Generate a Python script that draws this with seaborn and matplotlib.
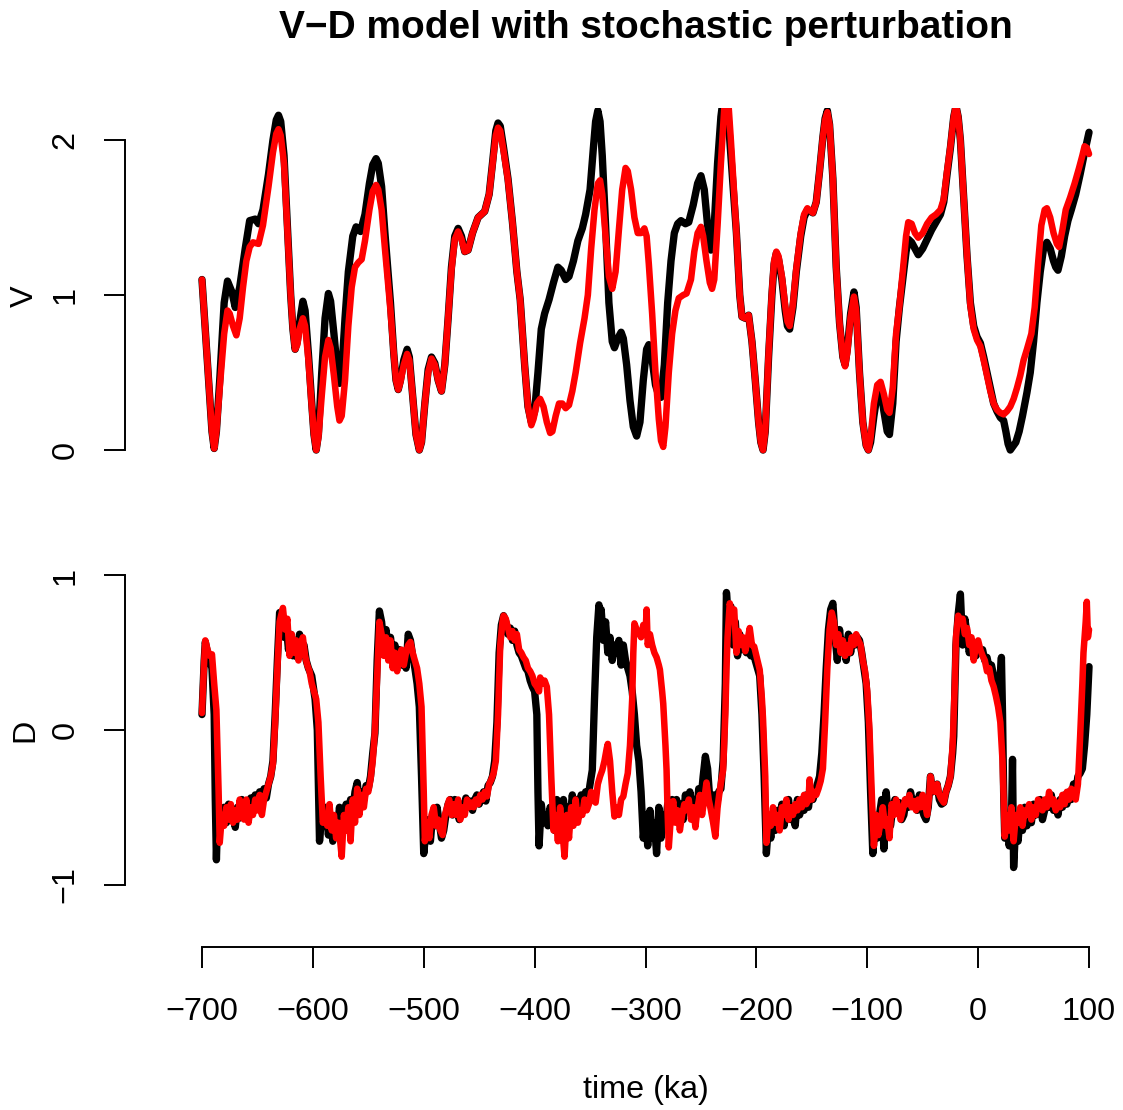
import numpy as np
import pandas as pd
import matplotlib
matplotlib.use("Agg")
import matplotlib.pyplot as plt
import seaborn as sns

# V (ice volume) - deterministic run (black) and perturbed run (red)
v_black_time = [
    -700, -695, -691, -689, -687, -684, -680, -677, -673, -670,
    -666, -661, -657, -652, -649, -645, -640, -636, -633, -631,
    -629, -626, -623, -620, -618, -616, -614, -612, -609, -607,
    -604, -601, -599, -597, -595, -592, -589, -586, -584, -581,
    -578, -576, -574, -571, -568, -564, -561, -557, -553, -549,
    -546, -543, -541, -538, -535, -530, -527, -525, -523, -521,
    -518, -515, -513, -510, -507, -504, -502, -499, -496, -493,
    -490, -487, -484, -481, -478, -475, -472, -469, -466, -463,
    -460, -456, -451, -445, -441, -438, -435, -433, -431, -428,
    -424, -420, -416, -413, -409, -406, -403, -400, -397, -394,
    -391, -387, -383, -379, -376, -372, -369, -365, -361, -357,
    -354, -350, -347, -345, -343, -341, -339, -336, -333, -330,
    -328, -325, -322, -320, -317, -314, -311, -308, -305, -302,
    -299, -297, -294, -291, -288, -286, -283, -280, -277, -274,
    -271, -268, -264, -261, -257, -253, -250, -247, -244, -241,
    -238, -235, -232, -229, -226, -222, -218, -215, -213, -210,
    -207, -204, -201, -198, -196, -194, -192, -189, -186, -184,
    -182, -180, -177, -174, -172, -170, -167, -164, -160, -157,
    -154, -149, -146, -143, -140, -138, -136, -134, -131, -128,
    -125, -122, -120, -118, -115, -112, -110, -107, -104, -101,
    -99, -97, -94, -91, -88, -85, -82, -80, -77, -74,
    -71, -68, -65, -63, -60, -57, -54, -50, -46, -42,
    -38, -34, -31, -28, -25, -22, -20, -18, -16, -13,
    -10, -7, -4, -1, 2, 5, 8, 11, 14, 17,
    20, 23, 25, 27, 29, 31, 34, 37, 40, 44,
    47, 50, 53, 56, 59, 62, 65, 68, 70, 72,
    75, 78, 81, 84, 88, 92, 96, 100,
]
v_black = [
    1.10, 0.55, 0.12, 0.01, 0.12, 0.45, 0.95, 1.09, 1.02, 0.92,
    1.05, 1.30, 1.48, 1.49, 1.46, 1.55, 1.78, 2.00, 2.13, 2.16,
    2.12, 1.90, 1.45, 1.00, 0.78, 0.65, 0.70, 0.82, 0.96, 0.90,
    0.62, 0.30, 0.10, 0.00, 0.10, 0.50, 0.85, 1.01, 0.96, 0.75,
    0.52, 0.43, 0.50, 0.85, 1.15, 1.38, 1.44, 1.41, 1.52, 1.72,
    1.84, 1.88, 1.85, 1.70, 1.40, 0.95, 0.62, 0.45, 0.39, 0.45,
    0.58, 0.65, 0.60, 0.35, 0.10, 0.00, 0.05, 0.30, 0.52, 0.60,
    0.56, 0.45, 0.38, 0.55, 0.85, 1.18, 1.38, 1.43, 1.38, 1.28,
    1.29, 1.40, 1.50, 1.54, 1.65, 1.85, 2.06, 2.11, 2.09, 1.95,
    1.75, 1.47, 1.15, 0.97, 0.55, 0.28, 0.18, 0.25, 0.50, 0.78,
    0.88, 0.97, 1.08, 1.18, 1.16, 1.10, 1.12, 1.22, 1.35, 1.43,
    1.52, 1.68, 1.95, 2.12, 2.19, 2.12, 1.90, 1.45, 0.95, 0.70,
    0.66, 0.72, 0.76, 0.72, 0.55, 0.32, 0.15, 0.09, 0.18, 0.45,
    0.65, 0.68, 0.58, 0.42, 0.35, 0.34, 0.55, 0.95, 1.22, 1.40,
    1.46, 1.48, 1.46, 1.47, 1.58, 1.72, 1.77, 1.68, 1.45, 1.29,
    1.45, 1.85, 2.15, 2.32, 2.20, 1.80, 1.40, 1.00, 0.86, 0.85,
    0.87, 0.70, 0.45, 0.18, 0.05, 0.00, 0.12, 0.60, 1.00, 1.20,
    1.27, 1.23, 1.10, 0.90, 0.80, 0.78, 0.92, 1.15, 1.38, 1.50,
    1.55, 1.53, 1.60, 1.80, 2.02, 2.14, 2.19, 2.10, 1.75, 1.18,
    0.82, 0.60, 0.55, 0.65, 0.88, 1.02, 0.92, 0.50, 0.18, 0.03,
    0.00, 0.05, 0.22, 0.36, 0.40, 0.25, 0.12, 0.10, 0.30, 0.70,
    0.92, 1.10, 1.28, 1.36, 1.34, 1.30, 1.26, 1.30, 1.36, 1.42,
    1.47, 1.52, 1.60, 1.78, 1.95, 2.15, 2.22, 2.15, 2.00, 1.62,
    1.25, 0.95, 0.80, 0.73, 0.69, 0.60, 0.50, 0.40, 0.30, 0.25,
    0.21, 0.19, 0.12, 0.04, 0.00, 0.02, 0.05, 0.12, 0.22, 0.37,
    0.50, 0.70, 0.95, 1.15, 1.30, 1.34, 1.30, 1.22, 1.18, 1.16,
    1.25, 1.38, 1.48, 1.55, 1.65, 1.78, 1.92, 2.05,
]

v_red_time = [
    -700, -695, -691, -689, -687, -684, -680, -677, -675, -672,
    -669, -666, -663, -660, -657, -654, -649, -645, -640, -636,
    -633, -631, -629, -626, -623, -620, -618, -616, -614, -612,
    -609, -607, -604, -601, -599, -597, -595, -592, -589, -586,
    -584, -581, -578, -576, -574, -571, -568, -565, -562, -559,
    -556, -553, -549, -546, -543, -541, -538, -535, -530, -527,
    -525, -523, -521, -518, -515, -513, -510, -507, -504, -502,
    -499, -496, -493, -490, -487, -484, -481, -478, -475, -472,
    -469, -466, -463, -460, -456, -451, -445, -441, -438, -435,
    -433, -431, -428, -424, -420, -416, -413, -409, -406, -403,
    -401, -398, -395, -392, -389, -386, -384, -381, -378, -375,
    -372, -369, -366, -363, -359, -355, -352, -349, -346, -343,
    -341, -339, -336, -333, -330, -327, -324, -321, -318, -316,
    -313, -310, -307, -304, -301, -299, -297, -294, -291, -288,
    -286, -284, -282, -279, -276, -273, -270, -266, -263, -259,
    -256, -253, -250, -248, -245, -242, -240, -238, -235, -232,
    -229, -226, -223, -220, -218, -215, -213, -210, -207, -204,
    -201, -198, -196, -194, -192, -189, -186, -184, -182, -180,
    -177, -174, -172, -170, -167, -164, -160, -157, -154, -149,
    -146, -143, -140, -138, -136, -134, -131, -128, -125, -122,
    -120, -118, -115, -112, -110, -107, -104, -101, -99, -97,
    -94, -91, -88, -85, -82, -80, -77, -74, -71, -68,
    -65, -63, -60, -57, -54, -50, -46, -42, -38, -34,
    -31, -28, -25, -22, -20, -18, -16, -13, -10, -7,
    -4, -1, 2, 5, 8, 11, 14, 17, 20, 23,
    26, 29, 32, 35, 38, 41, 44, 48, 51, 54,
    57, 60, 62, 65, 68, 71, 73, 76, 79, 83,
    87, 91, 94, 96, 98, 100,
]
v_red = [
    1.10, 0.55, 0.12, 0.01, 0.12, 0.40, 0.75, 0.90, 0.88, 0.80,
    0.74, 0.85, 1.05, 1.22, 1.31, 1.34, 1.33, 1.45, 1.70, 1.92,
    2.04, 2.07, 2.03, 1.85, 1.42, 1.00, 0.78, 0.65, 0.68, 0.78,
    0.85, 0.80, 0.58, 0.28, 0.10, 0.00, 0.08, 0.35, 0.60, 0.71,
    0.66, 0.48, 0.28, 0.19, 0.22, 0.45, 0.80, 1.05, 1.18, 1.21,
    1.23, 1.35, 1.55, 1.67, 1.71, 1.68, 1.55, 1.30, 0.90, 0.62,
    0.45, 0.39, 0.44, 0.55, 0.62, 0.58, 0.35, 0.10, 0.00, 0.05,
    0.30, 0.50, 0.59, 0.55, 0.45, 0.38, 0.55, 0.85, 1.16, 1.36,
    1.41, 1.36, 1.28, 1.29, 1.40, 1.50, 1.54, 1.65, 1.84, 2.03,
    2.08, 2.06, 1.93, 1.74, 1.47, 1.15, 0.97, 0.55, 0.28, 0.16,
    0.20, 0.30, 0.33, 0.28, 0.18, 0.11, 0.12, 0.22, 0.30, 0.30,
    0.27, 0.29, 0.38, 0.50, 0.69, 0.85, 1.00, 1.30, 1.55, 1.72,
    1.74, 1.65, 1.38, 1.12, 1.04, 1.15, 1.42, 1.68, 1.82, 1.80,
    1.68, 1.50, 1.40, 1.40, 1.43, 1.38, 1.20, 0.88, 0.50, 0.20,
    0.06, 0.02, 0.15, 0.50, 0.75, 0.90, 0.98, 1.00, 1.01, 1.10,
    1.28, 1.40, 1.44, 1.38, 1.22, 1.08, 1.04, 1.10, 1.45, 1.85,
    2.20, 2.32, 2.00, 1.65, 1.40, 1.00, 0.86, 0.85, 0.87, 0.70,
    0.45, 0.18, 0.05, 0.00, 0.12, 0.62, 1.02, 1.22, 1.28, 1.25,
    1.12, 0.93, 0.83, 0.80, 0.94, 1.17, 1.40, 1.52, 1.56, 1.53,
    1.60, 1.80, 2.02, 2.13, 2.18, 2.10, 1.75, 1.18, 0.82, 0.60,
    0.54, 0.63, 0.86, 0.99, 0.90, 0.50, 0.18, 0.03, 0.00, 0.08,
    0.30, 0.42, 0.44, 0.36, 0.26, 0.24, 0.40, 0.75, 0.93, 1.15,
    1.38, 1.47, 1.46, 1.40, 1.37, 1.40, 1.46, 1.50, 1.52, 1.55,
    1.62, 1.80, 1.96, 2.15, 2.22, 2.15, 2.00, 1.62, 1.25, 0.93,
    0.78, 0.71, 0.67, 0.58, 0.48, 0.38, 0.30, 0.26, 0.24, 0.23,
    0.25, 0.28, 0.33, 0.40, 0.48, 0.58, 0.65, 0.75, 0.92, 1.20,
    1.45, 1.55, 1.56, 1.50, 1.40, 1.33, 1.31, 1.42, 1.55, 1.63,
    1.72, 1.82, 1.90, 1.96, 1.95, 1.91,
]

# D (deep-water state) - deterministic run (black) and perturbed run (red)
d_black_time = [
    -700, -698, -697, -695, -693, -691, -689, -688, -687, -686,
    -684, -682, -680, -678, -676, -674, -672, -670, -668, -666,
    -664, -662, -660, -658, -656, -654, -652, -650, -648, -646,
    -644, -642, -640, -638, -636, -634, -632, -630, -628, -626,
    -624, -622, -620, -618, -616, -614, -612, -610, -608, -606,
    -604, -601, -598, -596, -594, -592, -590, -588, -586, -584,
    -582, -580, -578, -576, -574, -572, -570, -568, -566, -564,
    -562, -560, -558, -556, -554, -552, -550, -548, -546, -544,
    -542, -540, -538, -536, -534, -532, -530, -528, -526, -524,
    -522, -520, -518, -516, -514, -512, -510, -508, -506, -504,
    -502, -500, -498, -496, -494, -492, -490, -488, -486, -484,
    -482, -480, -478, -476, -474, -472, -470, -468, -466, -464,
    -462, -460, -458, -456, -454, -452, -450, -448, -446, -444,
    -442, -440, -438, -436, -434, -432, -430, -428, -426, -424,
    -422, -420, -418, -416, -414, -412, -410, -408, -406, -404,
    -402, -400, -398, -397, -396, -394, -392, -390, -388, -386,
    -384, -382, -380, -378, -376, -374, -372, -370, -368, -366,
    -364, -362, -360, -358, -356, -354, -352, -350, -348, -346,
    -344, -342, -341, -340, -338, -336, -334, -332, -330, -328,
    -326, -324, -322, -320, -318, -316, -314, -312, -310, -308,
    -306, -304, -302, -300, -298, -296, -294, -292, -290, -288,
    -286, -284, -282, -280, -278, -276, -274, -272, -270, -268,
    -266, -264, -262, -260, -258, -256, -254, -252, -250, -248,
    -246, -244, -242, -240, -238, -236, -234, -232, -230, -228,
    -227, -225, -223, -221, -219, -217, -215, -213, -211, -209,
    -207, -205, -203, -201, -199, -197, -195, -193, -191, -189,
    -187, -185, -183, -181, -179, -177, -175, -173, -171, -169,
    -167, -165, -163, -161, -159, -157, -155, -153, -151, -149,
    -147, -145, -143, -141, -139, -137, -135, -133, -131, -129,
    -127, -125, -123, -121, -119, -117, -115, -113, -111, -109,
    -107, -105, -103, -101, -99, -97, -95, -93, -91, -89,
    -87, -85, -83, -81, -79, -77, -75, -73, -71, -69,
    -67, -65, -63, -61, -59, -57, -55, -53, -51, -49,
    -47, -45, -43, -41, -39, -37, -35, -33, -31, -29,
    -27, -25, -23, -22, -20, -18, -16, -14, -12, -10,
    -8, -6, -4, -2, 0, 2, 4, 6, 8, 10,
    12, 14, 16, 19, 21, 22, 23, 24, 26, 28,
    30, 31, 32, 34, 36, 38, 40, 42, 44, 46,
    48, 50, 52, 54, 56, 58, 60, 62, 64, 66,
    68, 70, 72, 74, 76, 78, 80, 82, 84, 86,
    88, 90, 92, 94, 96, 98, 100,
]
d_black = [
    0.10, 0.45, 0.57, 0.50, 0.45, 0.40, 0.10, -0.45, -0.84, -0.60,
    -0.55, -0.62, -0.50, -0.60, -0.48, -0.58, -0.52, -0.63, -0.50, -0.57,
    -0.45, -0.55, -0.48, -0.56, -0.44, -0.52, -0.42, -0.50, -0.40, -0.48,
    -0.38, -0.44, -0.35, -0.30, -0.20, 0.10, 0.45, 0.76, 0.72, 0.60,
    0.68, 0.52, 0.62, 0.48, 0.58, 0.47, 0.62, 0.52, 0.55, 0.45,
    0.40, 0.35, 0.20, 0.00, -0.72, -0.55, -0.62, -0.50, -0.68, -0.55,
    -0.72, -0.58, -0.65, -0.50, -0.62, -0.55, -0.48, -0.58, -0.45, -0.52,
    -0.40, -0.34, -0.48, -0.40, -0.45, -0.36, -0.38, -0.30, -0.15, -0.02,
    0.45, 0.77, 0.70, 0.55, 0.65, 0.50, 0.60, 0.48, 0.55, 0.45,
    0.52, 0.42, 0.50, 0.40, 0.62, 0.58, 0.48, 0.40, 0.30, 0.15,
    -0.30, -0.80, -0.65, -0.58, -0.72, -0.55, -0.62, -0.50, -0.60, -0.70,
    -0.65, -0.55, -0.48, -0.45, -0.55, -0.45, -0.50, -0.58, -0.48, -0.52,
    -0.44, -0.50, -0.46, -0.52, -0.45, -0.42, -0.48, -0.44, -0.40, -0.46,
    -0.36, -0.34, -0.30, -0.20, 0.05, 0.50, 0.68, 0.74, 0.70, 0.62,
    0.66, 0.58, 0.64, 0.55, 0.50, 0.48, 0.44, 0.40, 0.38, 0.32,
    0.28, 0.25, 0.10, -0.40, -0.75, -0.48, -0.60, -0.55, -0.62, -0.50,
    -0.58, -0.65, -0.45, -0.60, -0.55, -0.45, -0.62, -0.50, -0.58, -0.42,
    -0.55, -0.45, -0.52, -0.42, -0.50, -0.40, -0.45, -0.35, -0.26, 0.20,
    0.60, 0.81, 0.70, 0.78, 0.58, 0.70, 0.50, 0.60, 0.45, 0.55,
    0.50, 0.58, 0.42, 0.55, 0.45, 0.40, 0.35, 0.25, 0.10, -0.10,
    -0.20, -0.40, -0.70, -0.55, -0.75, -0.52, -0.70, -0.60, -0.80, -0.50,
    -0.70, -0.55, -0.62, -0.48, -0.55, -0.45, -0.58, -0.45, -0.55, -0.48,
    -0.58, -0.42, -0.52, -0.40, -0.50, -0.45, -0.55, -0.38, -0.45, -0.30,
    -0.17, -0.25, -0.45, -0.50, -0.42, -0.50, -0.40, -0.38, -0.20, 0.30,
    0.89, 0.70, 0.80, 0.55, 0.70, 0.48, 0.62, 0.52, 0.58, 0.50,
    0.55, 0.48, 0.52, 0.45, 0.40, 0.35, 0.10, -0.30, -0.80, -0.60,
    -0.70, -0.55, -0.65, -0.52, -0.60, -0.48, -0.62, -0.52, -0.45, -0.58,
    -0.50, -0.62, -0.45, -0.55, -0.48, -0.52, -0.42, -0.50, -0.38, -0.45,
    -0.40, -0.35, -0.30, -0.15, 0.10, 0.40, 0.65, 0.78, 0.82, 0.60,
    0.45, 0.65, 0.50, 0.58, 0.45, 0.62, 0.50, 0.60, 0.55, 0.60,
    0.58, 0.50, 0.40, 0.30, 0.05, -0.40, -0.80, -0.62, -0.70, -0.55,
    -0.45, -0.77, -0.40, -0.55, -0.62, -0.50, -0.45, -0.52, -0.47, -0.58,
    -0.55, -0.45, -0.50, -0.40, -0.48, -0.45, -0.52, -0.42, -0.50, -0.55,
    -0.58, -0.50, -0.30, -0.40, -0.38, -0.35, -0.45, -0.48, -0.47, -0.40,
    -0.36, -0.30, -0.15, -0.04, 0.55, 0.75, 0.88, 0.55, 0.72, 0.62,
    0.50, 0.58, 0.52, 0.48, 0.55, 0.50, 0.52, 0.45, 0.47, 0.40,
    0.42, 0.35, 0.28, 0.25, 0.47, 0.10, -0.40, -0.70, -0.55, -0.75,
    -0.60, -0.19, -0.89, -0.60, -0.72, -0.55, -0.65, -0.50, -0.62, -0.52,
    -0.60, -0.48, -0.55, -0.50, -0.45, -0.58, -0.52, -0.45, -0.50, -0.42,
    -0.52, -0.48, -0.55, -0.45, -0.50, -0.42, -0.48, -0.40, -0.45, -0.35,
    -0.40, -0.30, -0.28, -0.25, -0.10, 0.10, 0.41,
]

d_red_time = [
    -700, -698, -697, -695, -693, -691, -689, -687, -685, -684,
    -682, -680, -678, -676, -674, -672, -670, -668, -666, -664,
    -662, -660, -658, -656, -654, -652, -650, -648, -646, -644,
    -642, -640, -638, -636, -634, -632, -630, -628, -627, -625,
    -623, -621, -619, -617, -615, -613, -611, -609, -607, -605,
    -603, -601, -599, -597, -595, -593, -591, -589, -587, -585,
    -583, -581, -579, -577, -575, -574, -572, -570, -568, -566,
    -564, -562, -560, -558, -556, -554, -552, -550, -548, -546,
    -544, -542, -540, -538, -536, -534, -532, -530, -528, -526,
    -524, -522, -520, -518, -516, -514, -512, -510, -508, -506,
    -504, -502, -500, -499, -497, -495, -493, -491, -489, -487,
    -485, -483, -481, -479, -477, -475, -473, -471, -469, -467,
    -465, -463, -461, -459, -457, -455, -453, -451, -449, -447,
    -445, -443, -441, -439, -437, -435, -433, -431, -429, -428,
    -426, -424, -422, -420, -418, -416, -414, -412, -410, -408,
    -406, -404, -402, -400, -398, -396, -395, -393, -391, -389,
    -387, -385, -383, -381, -379, -377, -375, -373, -371, -369,
    -367, -365, -363, -361, -359, -357, -355, -353, -351, -349,
    -347, -345, -343, -341, -339, -337, -335, -334, -332, -330,
    -328, -326, -324, -322, -320, -318, -316, -314, -312, -311,
    -310, -308, -306, -304, -302, -300, -299, -298, -296, -294,
    -292, -290, -288, -287, -285, -284, -282, -281, -280, -279,
    -277, -275, -273, -271, -269, -267, -265, -263, -261, -259,
    -257, -255, -253, -251, -249, -247, -245, -243, -241, -239,
    -237, -235, -233, -231, -230, -228, -227, -226, -224, -222,
    -220, -218, -216, -214, -212, -210, -208, -206, -204, -202,
    -200, -198, -197, -195, -194, -192, -191, -189, -187, -185,
    -183, -181, -179, -177, -175, -173, -171, -169, -167, -165,
    -163, -161, -159, -157, -155, -153, -152, -150, -148, -146,
    -144, -142, -140, -138, -136, -134, -132, -130, -128, -126,
    -124, -122, -120, -118, -116, -114, -112, -110, -108, -106,
    -104, -102, -100, -98, -96, -94, -92, -90, -88, -86,
    -84, -82, -80, -78, -76, -74, -72, -70, -68, -66,
    -64, -62, -60, -58, -56, -54, -52, -50, -48, -46,
    -44, -43, -41, -39, -37, -35, -33, -31, -29, -27,
    -25, -23, -21, -20, -18, -16, -14, -12, -10, -8,
    -6, -4, -2, 0, 2, 4, 6, 8, 10, 12,
    14, 16, 18, 20, 22, 24, 26, 28, 30, 32,
    34, 36, 38, 40, 42, 44, 46, 48, 50, 52,
    54, 56, 58, 60, 62, 64, 66, 68, 70, 72,
    74, 76, 78, 80, 82, 84, 86, 88, 90, 92,
    94, 95, 97, 98, 99, 100,
]
d_red = [
    0.11, 0.45, 0.58, 0.52, 0.48, 0.49, 0.30, 0.13, -0.40, -0.73,
    -0.55, -0.62, -0.50, -0.58, -0.48, -0.60, -0.52, -0.58, -0.45, -0.55,
    -0.58, -0.45, -0.60, -0.50, -0.55, -0.45, -0.52, -0.42, -0.55, -0.45,
    -0.40, -0.35, -0.30, -0.22, 0.05, 0.40, 0.70, 0.76, 0.79, 0.65,
    0.72, 0.48, 0.62, 0.50, 0.58, 0.45, 0.55, 0.60, 0.48, 0.42,
    0.38, 0.30, 0.25, 0.20, 0.05, -0.30, -0.60, -0.55, -0.62, -0.48,
    -0.65, -0.55, -0.70, -0.60, -0.75, -0.82, -0.55, -0.65, -0.50, -0.72,
    -0.45, -0.60, -0.38, -0.55, -0.42, -0.50, -0.38, -0.40, -0.32, -0.20,
    0.00, 0.35, 0.70, 0.62, 0.48, 0.60, 0.45, 0.58, 0.40, 0.50,
    0.38, 0.48, 0.52, 0.42, 0.50, 0.55, 0.57, 0.50, 0.45, 0.40,
    0.30, 0.15, -0.40, -0.72, -0.60, -0.70, -0.55, -0.50, -0.62, -0.58,
    -0.65, -0.68, -0.55, -0.50, -0.45, -0.55, -0.48, -0.55, -0.45, -0.58,
    -0.50, -0.55, -0.45, -0.50, -0.47, -0.50, -0.45, -0.48, -0.42, -0.45,
    -0.40, -0.43, -0.35, -0.32, -0.28, -0.20, 0.10, 0.55, 0.70, 0.74,
    0.72, 0.66, 0.60, 0.64, 0.58, 0.62, 0.52, 0.50, 0.47, 0.45,
    0.40, 0.38, 0.35, 0.30, 0.28, 0.25, 0.34, 0.30, 0.32, 0.28,
    0.10, -0.30, -0.65, -0.55, -0.72, -0.50, -0.65, -0.82, -0.55, -0.70,
    -0.50, -0.62, -0.45, -0.60, -0.52, -0.55, -0.45, -0.52, -0.48, -0.40,
    -0.45, -0.47, -0.35, -0.30, -0.26, -0.20, -0.12, -0.09, -0.20, -0.40,
    -0.56, -0.50, -0.55, -0.45, -0.43, -0.35, -0.28, -0.10, 0.20, 0.50,
    0.69, 0.65, 0.63, 0.60, 0.68, 0.62, 0.78, 0.55, 0.62, 0.55,
    0.50, 0.47, 0.42, 0.39, 0.25, 0.17, -0.10, -0.26, -0.55, -0.76,
    -0.55, -0.46, -0.60, -0.52, -0.65, -0.55, -0.48, -0.52, -0.45, -0.58,
    -0.50, -0.63, -0.50, -0.42, -0.55, -0.45, -0.34, -0.45, -0.52, -0.60,
    -0.69, -0.50, -0.39, -0.30, -0.26, 0.10, 0.39, 0.60, 0.82, 0.75,
    0.78, 0.50, 0.64, 0.55, 0.60, 0.51, 0.58, 0.66, 0.55, 0.54,
    0.48, 0.42, 0.39, 0.20, 0.07, -0.30, -0.73, -0.55, -0.62, -0.50,
    -0.60, -0.55, -0.65, -0.50, -0.55, -0.45, -0.58, -0.50, -0.55, -0.48,
    -0.52, -0.45, -0.50, -0.42, -0.48, -0.45, -0.32, -0.45, -0.40, -0.42,
    -0.38, -0.33, -0.25, 0.05, 0.40, 0.65, 0.76, 0.70, 0.55, 0.62,
    0.50, 0.58, 0.48, 0.55, 0.50, 0.60, 0.55, 0.62, 0.58, 0.55,
    0.45, 0.38, 0.25, 0.00, -0.40, -0.75, -0.55, -0.68, -0.60, -0.50,
    -0.62, -0.58, -0.70, -0.48, -0.55, -0.45, -0.50, -0.58, -0.52, -0.45,
    -0.48, -0.42, -0.50, -0.46, -0.52, -0.45, -0.50, -0.42, -0.48, -0.55,
    -0.42, -0.30, -0.38, -0.40, -0.35, -0.42, -0.45, -0.47, -0.40, -0.36,
    -0.30, -0.10, 0.30, 0.60, 0.74, 0.70, 0.72, 0.62, 0.66, 0.55,
    0.60, 0.45, 0.55, 0.58, 0.52, 0.48, 0.45, 0.38, 0.40, 0.32,
    0.28, 0.22, 0.15, 0.05, -0.20, -0.69, -0.55, -0.65, -0.50, -0.72,
    -0.55, -0.60, -0.50, -0.62, -0.52, -0.55, -0.48, -0.58, -0.50, -0.55,
    -0.45, -0.48, -0.52, -0.45, -0.50, -0.40, -0.48, -0.45, -0.52, -0.47,
    -0.50, -0.42, -0.48, -0.40, -0.45, -0.38, -0.42, -0.45, -0.35, -0.04,
    0.30, 0.50, 0.70, 0.83, 0.60, 0.65,
]

time_ticks = [-700, -600, -500, -400, -300, -200, -100, 0, 100]
v_ticks = [0, 1, 2]
d_ticks = [-1, 0, 1]

assert len(v_black_time) == len(v_black)
assert len(v_red_time) == len(v_red)
assert len(d_black_time) == len(d_black)
assert len(d_red_time) == len(d_red)


def make_frame(t_black, y_black, t_red, y_red):
    black = pd.DataFrame({"time": t_black, "value": y_black, "run": "deterministic"})
    red = pd.DataFrame({"time": t_red, "value": y_red, "run": "perturbed"})
    return pd.concat([black, red], ignore_index=True)


v_frame = make_frame(v_black_time, v_black, v_red_time, v_red)
d_frame = make_frame(d_black_time, d_black, d_red_time, d_red)

sns.set_style("ticks", rc={
    "axes.edgecolor": "black", "xtick.color": "black", "ytick.color": "black",
    "text.color": "black", "axes.labelcolor": "black",
})
plt.rcParams["font.family"] = ["Liberation Sans", "DejaVu Sans"]

W, H = 1123, 1110
fig = plt.figure(figsize=(W / 100, H / 100), dpi=100)
left = 166.5 / W
width = 958 / W
ax_v = fig.add_axes([left, 1 - 484.9 / H, width, 377.4 / H])
ax_d = fig.add_axes([left, 1 - 887.6 / H, width, 315.2 / H])

palette = {"deterministic": "black", "perturbed": "red"}
for ax, frame in ((ax_v, v_frame), (ax_d, d_frame)):
    sns.lineplot(data=frame, x="time", y="value", hue="run", palette=palette,
                 estimator=None, sort=False, legend=False, linewidth=5.3, ax=ax)
    ax.lines[1].set_linewidth(4.7)
    for line in ax.lines:
        line.set_solid_capstyle("round")
        line.set_solid_joinstyle("round")
    ax.set_xlim(-732, 132)
    ax.set_xlabel("")
    ax.set_ylabel("")
    ax.spines[["top", "right"]].set_visible(False)
    ax.spines["left"].set_position(("outward", 29.9))
    ax.spines["left"].set_linewidth(1.4)
    ax.tick_params(axis="y", length=15, width=1.4, pad=28, labelsize=23.3, direction="out")

ax_v.set_ylim(-0.225, 2.21)
ax_v.set_yticks(v_ticks)
ax_v.spines["left"].set_bounds(0, 2)
ax_v.spines["bottom"].set_visible(False)
ax_v.set_xticks([])

ax_d.set_ylim(-1.02, 1.02)
ax_d.set_yticks(d_ticks)
ax_d.spines["left"].set_bounds(-1, 1)
ax_d.set_xticks(time_ticks)
ax_d.spines["bottom"].set_position(("outward", 43.1))
ax_d.spines["bottom"].set_bounds(-700, 100)
ax_d.spines["bottom"].set_linewidth(1.4)
ax_d.tick_params(axis="x", length=15, width=1.4, pad=21, labelsize=23.3, direction="out")

for ax in (ax_v, ax_d):
    for lab in ax.get_yticklabels():
        lab.set_rotation(90)
        lab.set_ha("center")
        lab.set_va("center")

cx = 645.5 / W
fig.text(cx, 1 - 28 / H, "V\u2212D model with stochastic perturbation",
         ha="center", va="center", fontsize=28, fontweight="bold")
fig.text(cx, 1 - 1090 / H, "time (ka)", ha="center", va="center", fontsize=23.3)
fig.text(25 / W, 1 - 296 / H, "V", ha="center", va="center", rotation=90, fontsize=23.3)
fig.text(25 / W, 1 - 730 / H, "D", ha="center", va="center", rotation=90, fontsize=23.3)

fig.savefig("out.png", dpi=100)
